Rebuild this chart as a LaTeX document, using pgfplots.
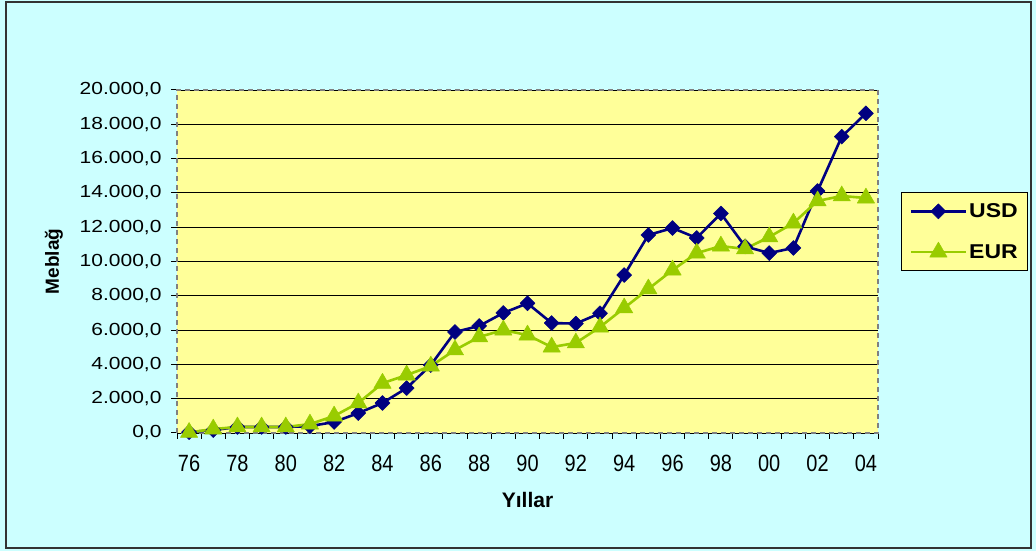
\documentclass[border=0pt]{standalone}
\usepackage{fontspec}
\setmainfont{Liberation Sans}
\usepackage{graphicx}
\usepackage{pgfplots}
\pgfplotsset{compat=1.18}
\definecolor{bgc}{HTML}{CCFFFF}
\definecolor{plotbg}{HTML}{FFFF99}
\definecolor{usd}{HTML}{000080}
\definecolor{eur}{HTML}{99CC00}
\definecolor{framec}{HTML}{808080}
\begin{document}
\begin{tikzpicture}[x=1pt,y=1pt]
\useasboundingbox (0,0) rectangle (1036,551);
\fill[bgc] (0,0) rectangle (1036,551);
\draw[black!80, line width=1.2pt] (6,3) rectangle (1031,549);
\begin{axis}[
  at={(177pt,118pt)}, anchor=south west,
  scale only axis, width=701pt, height=343pt,
  xmin=-0.5, xmax=28.5, ymin=0, ymax=20000,
  clip=false,
  axis background/.style={fill=plotbg},
  axis line style={draw=framec, line width=2.5pt, dash pattern=on 5pt off 4pt},
  tick style={solid, black, line width=1pt},
  tick align=outside, major tick length=6pt,
  xtick pos=bottom, ytick pos=left,
  xtick={-0.5,0.5,...,28.5}, xticklabels={},
  extra x ticks={0,2,...,28},
  extra x tick labels={76,78,80,82,84,86,88,90,92,94,96,98,00,02,04},
  extra x tick style={major tick length=0pt, xticklabel style={font=\fontsize{23.5}{23.5}\selectfont, xscale=0.85, yshift=-19pt}},
  ytick={0,2000,...,20000},
  ymajorgrids, major grid style={black, line width=0.9pt, solid},
  scaled y ticks=false,
  yticklabel={\scalebox{1.2}[1]{\pgfmathprintnumber[fixed, fixed zerofill, precision=1, use comma, 1000 sep={.}, assume math mode=true]{\tick}}},
  yticklabel style={font=\fontsize{17.5}{17.5}\selectfont, anchor=east, xshift=-6pt},
  xlabel={\bfseries Yıllar},
  xlabel style={at={(axis description cs:0.5,-0.195)}, anchor=center, font=\fontsize{21}{21}\selectfont},
  ylabel={\bfseries Meblağ},
  ylabel style={at={(axis description cs:-0.1755,0.5)}, anchor=center, font=\fontsize{19}{19}\selectfont},
  legend style={at={(axis description cs:1.0328,0.7026)}, anchor=north west, fill=plotbg, draw=black, line width=1.2pt, font=\fontsize{20}{20}\selectfont\bfseries, row sep=21pt, inner xsep=8pt, inner ysep=9pt},
  legend cell align=left,
  legend image code/.code={\draw[mark repeat=2,mark phase=2,#1] plot coordinates {(0pt,0pt) (27.5pt,0pt) (55pt,0pt)};},
]
\addplot[usd, line width=2.6pt, line join=round, mark=square*, mark size=5.3pt, mark options={rotate=45, solid, fill=usd, draw=usd, line width=0.5pt}]
 coordinates {(0,50) (1,170) (2,350) (3,350) (4,350) (5,400) (6,640) (7,1160) (8,1750) (9,2620) (10,3960) (11,5890) (12,6240) (13,7000) (14,7560) (15,6410) (16,6380) (17,6980) (18,9210) (19,11545) (20,11950) (21,11370) (22,12800) (23,10880) (24,10490) (25,10790) (26,14110) (27,17280) (28,18640)};
\addlegendentry{\scalebox{1.15}[1]{USD}}
\addplot[eur, line width=2.6pt, line join=round, mark=triangle*, mark size=10pt, mark options={solid, fill=eur, draw=eur, line width=0.5pt}]
 coordinates {(0,30) (1,230) (2,350) (3,350) (4,350) (5,520) (6,990) (7,1750) (8,2900) (9,3380) (10,3900) (11,4840) (12,5600) (13,6000) (14,5710) (15,5010) (16,5250) (17,6180) (18,7290) (19,8400) (20,9500) (21,10490) (22,10900) (23,10730) (24,11430) (25,12240) (26,13530) (27,13820) (28,13700)};
\addlegendentry{\scalebox{1.15}[1]{EUR}}
\end{axis}
\end{tikzpicture}
\end{document}
